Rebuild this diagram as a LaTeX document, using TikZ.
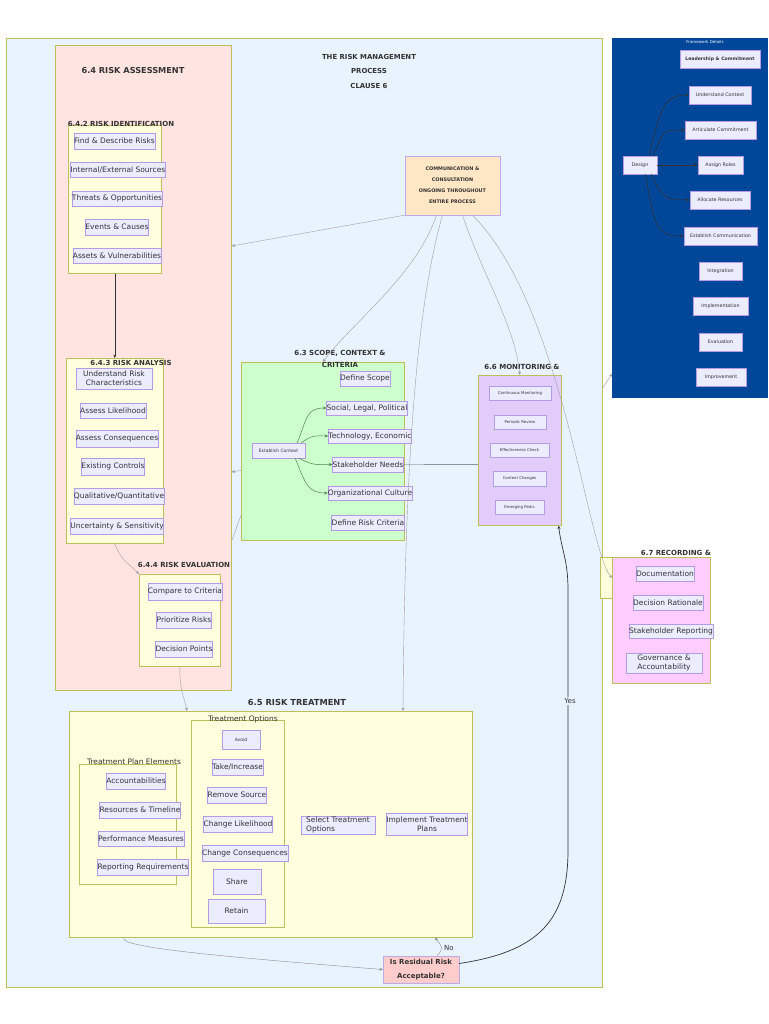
\documentclass[tikz,border=0pt]{standalone}
\usepackage{fontspec}
\setmainfont{DejaVu Sans}
\usetikzlibrary{arrows.meta}
\definecolor{mainbg}{RGB}{232,243,254}
\definecolor{grpline}{RGB}{190,190,90}
\definecolor{fwblue}{RGB}{0,71,153}
\definecolor{assessbg}{RGB}{255,228,225}
\definecolor{subbg}{RGB}{255,255,222}
\definecolor{scopebg}{RGB}{204,255,204}
\definecolor{monbg}{RGB}{225,204,250}
\definecolor{recbg}{RGB}{255,204,255}
\definecolor{commbg}{RGB}{255,230,196}
\definecolor{decbg}{RGB}{255,204,204}
\definecolor{itemfill}{RGB}{236,236,255}
\definecolor{itemline}{RGB}{147,112,219}
\definecolor{txt}{RGB}{51,51,51}
\begin{document}
\begin{tikzpicture}[x=1pt,y=-1pt]
\tikzset{grp/.style={draw=grpline,line width=0.6pt,anchor=north west,inner sep=0pt}}
\tikzset{bx/.style 2 args={minimum width=#1pt,minimum height=#2pt}}
\tikzset{item/.style={draw=itemline!70,fill=itemfill,line width=0.5pt,inner xsep=0pt,inner ysep=1pt,text=txt,font=\fontsize{7.5}{8}\selectfont}}
\tikzset{tiny/.style={item,font=\fontsize{3.9}{5}\selectfont}}
\tikzset{fw/.style={item,minimum height=18pt,font=\fontsize{4.8}{6}\selectfont}}
\tikzset{ttl/.style={text=txt,font=\bfseries\fontsize{7}{8}\selectfont}}
\tikzset{flow/.style={draw=gray!75,line width=0.4pt,-{Stealth[length=3.5pt,width=3pt]}}}
\tikzset{link/.style={draw=txt,line width=0.5pt,-{Stealth[length=3.5pt,width=3pt]}}}
\useasboundingbox[fill=white] (0,0) rectangle (768,1024);
\node[grp,fill=mainbg,bx={596}{949}] (main) at (6,38) {};
\node[ttl,align=center,font=\bfseries\fontsize{6.9}{14.5}\selectfont] (mainttl) at (369,71) {THE RISK MANAGEMENT\\PROCESS\\CLAUSE 6};
% framework
\node[grp,draw=none,fill=fwblue,bx={156}{360}] (frame) at (612,38) {};
\node[text=white,font=\fontsize{4}{5}\selectfont] (fwttl) at (705,42) {Framework Details};
\node[fw,bx={80}{18},font=\bfseries\fontsize{4.6}{6}\selectfont] (lead) at (720,59) {Leadership \& Commitment};
\node[fw,bx={62}{18}] (uctx) at (720,95) {Understand Context};
\node[fw,bx={71}{18}] (artc) at (720.5,130) {Articulate Commitment};
\node[fw,bx={34}{18}] (design) at (640,165) {Design};
\node[fw,bx={45}{18}] (roles) at (720.5,165) {Assign Roles};
\node[fw,bx={60}{18}] (alloc) at (720,200) {Allocate Resources};
\node[fw,bx={73}{18}] (estcom) at (720.5,236) {Establish Communication};
\node[fw,bx={43}{18}] (integ) at (720.5,271) {Integration};
\node[fw,bx={55}{18}] (impl) at (720.5,306) {Implementation};
\node[fw,bx={43}{18}] (evalu) at (720.5,342) {Evaluation};
\node[fw,bx={50}{18}] (improv) at (721,377) {Improvement};
% 6.4 risk assessment
\node[grp,fill=assessbg,bx={176}{645}] (assess) at (55,45) {};
\node[ttl,font=\bfseries\fontsize{8.2}{9}\selectfont] (assessttl) at (133,71) {6.4 RISK ASSESSMENT};
\node[grp,fill=subbg,bx={93}{148}] (ident) at (68,125) {};
\node[ttl] (identttl) at (121,124) {6.4.2 RISK IDENTIFICATION};
\node[item,bx={63}{16}] (findr) at (114.5,141) {Find \& Describe Risks};
\node[item,bx={72}{15}] (intext) at (118,169.5) {Internal/External Sources};
\node[item,bx={69}{15}] (threat) at (117,198.5) {Threats \& Opportunities};
\node[item,bx={59}{16}] (events) at (117,227) {Events \& Causes};
\node[item,bx={67}{15}] (assets) at (117,255.5) {Assets \& Vulnerabilities};
\node[grp,fill=subbg,bx={97}{185}] (analysis) at (66,358) {};
\node[ttl] (analttl) at (131,363) {6.4.3 RISK ANALYSIS};
\node[item,bx={76}{21},align=center,font=\fontsize{7.5}{9}\selectfont] (urc) at (114,378.5) {Understand Risk\\Characteristics};
\node[item,bx={54}{15}] (alike) at (113,410.5) {Assess Likelihood};
\node[item,bx={61}{17}] (acons) at (117,438.5) {Assess Consequences};
\node[item,bx={53}{17}] (exist) at (113,466.5) {Existing Controls};
\node[item,bx={69}{16}] (qual) at (119,496) {Qualitative/Quantitative};
\node[item,bx={71}{16}] (uncert) at (117,526) {Uncertainty \& Sensitivity};
\node[grp,fill=subbg,bx={81}{92}] (evalg) at (139,574) {};
\node[ttl] (evalttl) at (184,565) {6.4.4 RISK EVALUATION};
\node[item,bx={59}{17}] (compare) at (185,591.5) {Compare to Criteria};
\node[item,bx={48}{16}] (priorit) at (184,620) {Prioritize Risks};
\node[item,bx={49}{16}] (decpts) at (184,649) {Decision Points};
% communication
\node[draw=itemline!60,fill=commbg,bx={95}{59},align=center,text=txt,font=\bfseries\fontsize{4.9}{11}\selectfont] (comm) at (452.5,185.5) {COMMUNICATION \&\\CONSULTATION\\ONGOING THROUGHOUT\\ENTIRE PROCESS};
% 6.3 scope
\node[grp,fill=scopebg,bx={163}{178}] (scope) at (241,362) {};
\node[ttl,align=center,font=\bfseries\fontsize{7}{12}\selectfont] (scopettl) at (340,359) {6.3 SCOPE, CONTEXT \&\\CRITERIA};
\node[item,bx={45}{15}] (defscope) at (365,378.5) {Define Scope};
\node[item,bx={64}{14}] (social) at (367,408) {Social, Legal, Political};
\node[item,bx={63}{14}] (techn) at (370,436) {Technology, Economic};
\node[item,bx={56}{15}] (stake) at (368,464.5) {Stakeholder Needs};
\node[item,bx={64}{14}] (orgcul) at (370,493) {Organizational Culture};
\node[item,bx={58}{15}] (defcrit) at (368,522.5) {Define Risk Criteria};
\node[tiny,bx={53}{15},font=\fontsize{4.5}{5}\selectfont] (estctx) at (278.5,450.5) {Establish Context};
% 6.6 monitoring
\node[grp,fill=monbg,bx={83}{150}] (monitor) at (478,375) {};
\node[ttl] (monttl) at (522,367) {6.6 MONITORING \&};
\node[tiny,bx={62}{14}] (contmon) at (520,393) {Continuous Monitoring};
\node[tiny,bx={52}{14}] (periodic) at (520,422) {Periodic Review};
\node[tiny,bx={59}{14}] (effect) at (519.5,450) {Effectiveness Check};
\node[tiny,bx={53}{15}] (ctxchg) at (519.5,478.5) {Context Changes};
\node[tiny,bx={49}{14}] (emerg) at (519.5,507) {Emerging Risks};
% 6.7 recording
\node[grp,fill=subbg,bx={12}{41}] (strip) at (600,557) {};
\node[grp,fill=recbg,bx={98}{126}] (record) at (612,557) {};
\node[ttl] (recttl) at (676,553) {6.7 RECORDING \&};
\node[item,bx={49}{15}] (docu) at (665,573.5) {Documentation};
\node[item,bx={55}{15}] (decrat) at (668,602.5) {Decision Rationale};
\node[item,bx={64}{14}] (stkrep) at (671,631) {Stakeholder Reporting};
\node[item,bx={76}{20},align=center,font=\fontsize{7.5}{9}\selectfont] (govacc) at (664,663) {Governance \&\\Accountability};
% 6.5 treatment
\node[grp,fill=subbg,bx={403}{226}] (treat) at (69,711) {};
\node[ttl,font=\bfseries\fontsize{8.3}{9}\selectfont] (treatttl) at (297,702) {6.5 RISK TREATMENT};
\node[grp,fill=subbg,bx={97}{120}] (plan) at (79,764) {};
\node[text=txt,font=\fontsize{7.5}{8}\selectfont] (planttl) at (134,762) {Treatment Plan Elements};
\node[item,bx={51}{16}] (accnt) at (136,781) {Accountabilities};
\node[item,bx={63}{16}] (restime) at (140,810) {Resources \& Timeline};
\node[item,bx={65}{15}] (perfm) at (141,838.5) {Performance Measures};
\node[item,bx={68}{16}] (reportq) at (143,867) {Reporting Requirements};
\node[grp,fill=subbg,bx={93}{207}] (options) at (191,720) {};
\node[text=txt,font=\fontsize{7.5}{8}\selectfont] (optttl) at (243,719) {Treatment Options};
\node[tiny,bx={38}{19},font=\fontsize{4.5}{5}\selectfont] (avoid) at (241,739.5) {Avoid};
\node[item,bx={49}{16}] (takeinc) at (237.5,767) {Take/Increase};
\node[item,bx={50}{16}] (remsrc) at (237,795) {Remove Source};
\node[item,bx={56}{16}] (chglik) at (238,824) {Change Likelihood};
\node[item,bx={64}{16}] (chgcon) at (245,853) {Change Consequences};
\node[item,bx={48}{25}] (share) at (237,881.5) {Share};
\node[item,bx={57}{24}] (retain) at (236.5,911) {Retain};
\node[item,bx={74}{16},align=left,inner xsep=3pt,font=\fontsize{7.5}{9}\selectfont] (select) at (338,825) {Select Treatment\\Options};
\node[item,bx={77}{22},align=center,font=\fontsize{7.5}{9}\selectfont] (implem) at (427,824) {Implement Treatment\\Plans};
\node[draw=itemline!60,fill=decbg,bx={76}{21},align=center,text=txt,font=\bfseries\fontsize{7}{14}\selectfont] (decide) at (421,969.5) {Is Residual Risk\\Acceptable?};
% connectors
\draw[link] (ident.south) -- (analysis.north);
\draw[flow] (analysis.south) .. controls +(5,15) and +(-12,-12) .. (evalg.north west);
\draw[flow] (evalg.south) .. controls +(0,25) and +(-3,-15) .. ([xshift=118pt]treat.north west);
\draw[flow] (comm.south west) -- ([yshift=-201pt]assess.north east);
\draw[flow] ([xshift=-16pt]comm.south) .. controls +(-20,60) and +(30,-40) .. (scope.north);
\draw[flow] ([xshift=-10pt]comm.south) .. controls +(-20,70) and +(2,-300) .. ([xshift=334pt]treat.north west);
\draw[flow] ([xshift=10pt]comm.south) .. controls +(20,60) and +(-5,-50) .. (monitor.north);
\draw[flow] ([xshift=20pt]comm.south) .. controls +(90,90) and +(-25,-30) .. ([yshift=-21pt]record.north west);
\draw[flow] ([yshift=-19pt]scope.west) -- ([yshift=-427pt]assess.north east);
\draw[draw=gray!75,line width=0.4pt] ([yshift=-64pt]scope.west) -- ([yshift=-496pt]assess.north east);
\draw[draw=gray!75!black,line width=0.4pt] ([yshift=-14pt]monitor.west) -- (stake.east);
\draw[link] ([xshift=-8pt]design.north east) .. controls +(10,-45) and +(-25,0) .. (uctx.west);
\draw[link] ([xshift=-4pt]design.north east) .. controls +(12,-25) and +(-25,0) .. (artc.west);
\draw[link] (design.east) -- (roles.west);
\draw[link] ([xshift=-6pt]design.south east) .. controls +(12,25) and +(-25,0) .. (alloc.west);
\draw[link] ([xshift=-12pt]design.south east) .. controls +(10,50) and +(-30,0) .. (estcom.west);
\draw[link,draw=green!30!black!70] ([xshift=-8pt]estctx.north east) .. controls +(10,-25) and +(-20,0) .. (social.west);
\draw[link,draw=green!30!black!70] ([xshift=-4pt]estctx.north east) .. controls +(12,-8) and +(-15,0) .. (techn.west);
\draw[link,draw=green!30!black!70] ([xshift=-6pt]estctx.south east) .. controls +(15,8) and +(-15,0) .. (stake.west);
\draw[link,draw=green!30!black!70] ([xshift=-10pt]estctx.south east) .. controls +(10,25) and +(-20,0) .. (orgcul.west);
\draw[flow,draw=gray!90] ([xshift=55pt]treat.south west) .. controls +(-8,10) and +(-150,-12) .. (decide.west);
\draw[flow,draw=gray!90] ([xshift=16pt]decide.north) .. controls +(8,-8) and +(6,8) .. ([xshift=366pt]treat.south west);
\node[text=txt,font=\fontsize{7}{8}\selectfont] (nolbl) at (449,948) {No};
\draw[link,draw=gray!40!black,line width=0.7pt] ([yshift=6pt]decide.east) .. controls +(80,-12) and +(0,70) .. (568,850) -- (568,590) .. controls +(0,-30) and +(3,25) .. ([xshift=-3pt]monitor.south east);
\node[fill=mainbg,inner sep=1pt,text=txt,font=\fontsize{7}{8}\selectfont] (yeslbl) at (570,701) {Yes};
\draw[flow] ([yshift=124.5pt]main.east) -- ([yshift=25pt]frame.south west);
\end{tikzpicture}
\end{document}
